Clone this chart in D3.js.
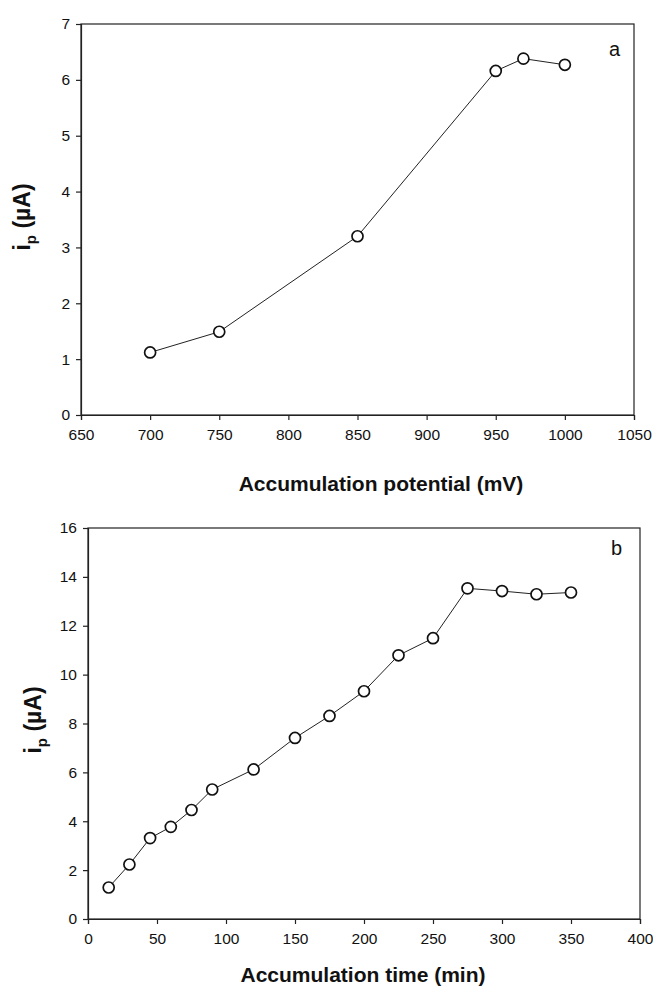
<!DOCTYPE html>
<html>
<head>
<meta charset="utf-8">
<script src="https://cdn.jsdelivr.net/npm/d3@7"></script>
<style>
  body { margin: 0; background: #fff; }
  svg { display: block; }
  text { font-family: "Liberation Sans", Arial, sans-serif; fill: #111; }
</style>
</head>
<body>
<svg id="chart" width="653" height="987"></svg>
<script>
// panel a: accumulation potential
var potential = [700, 750, 850, 950, 970, 1000];
var currentA = [1.12, 1.49, 3.2, 6.16, 6.38, 6.27];
var ticksA_x = [650, 700, 750, 800, 850, 900, 950, 1000, 1050];
var ticksA_y = [0, 1, 2, 3, 4, 5, 6, 7];

// panel b: accumulation time
var time = [15, 30, 45, 60, 75, 90, 120, 150, 175, 200, 225, 250, 275, 300, 325, 350];
var currentB = [1.29, 2.23, 3.31, 3.77, 4.46, 5.3, 6.12, 7.41, 8.31, 9.32, 10.79, 11.49, 13.53, 13.42, 13.29, 13.36];
var ticksB_x = [0, 50, 100, 150, 200, 250, 300, 350, 400];
var ticksB_y = [0, 2, 4, 6, 8, 10, 12, 14, 16];

var svg = d3.select("#chart");

function drawPanel(opt) {
    var x = d3.scaleLinear().domain(opt.xDomain).range([opt.left, opt.right]);
    var y = d3.scaleLinear().domain(opt.yDomain).range([opt.bottom, opt.top]);
    var g = svg.append("g");

    // frame
    g.append("rect")
        .attr("x", opt.left)
        .attr("y", opt.top)
        .attr("width", opt.right - opt.left)
        .attr("height", opt.bottom - opt.top)
        .attr("fill", "none")
        .attr("stroke", "#222")
        .attr("stroke-width", 1.2);

    var xAxis = g.append("g")
        .attr("transform", "translate(0," + opt.bottom + ")")
        .call(d3.axisBottom(x).tickValues(opt.xTicks).tickSize(5).tickPadding(9).tickFormat(d3.format("d")));
    var yAxis = g.append("g")
        .attr("transform", "translate(" + opt.left + ",0)")
        .call(d3.axisLeft(y).tickValues(opt.yTicks).tickSize(5).tickPadding(6).tickFormat(d3.format("d")));

    [xAxis, yAxis].forEach(function (a) {
        a.select(".domain").attr("stroke", "#222").attr("stroke-width", 1.2);
        a.selectAll(".tick line").attr("stroke", "#222").attr("stroke-width", 1.2);
        a.selectAll(".tick text")
            .attr("font-size", 15.5)
            .attr("font-family", "'Liberation Sans', Arial, sans-serif")
            .attr("fill", "#222");
    });

    var line = d3.line()
        .x(function (d) { return x(d[0]); })
        .y(function (d) { return y(d[1]); });
    var pts = d3.zip(opt.xs, opt.ys);

    g.append("path")
        .datum(pts)
        .attr("d", line)
        .attr("fill", "none")
        .attr("stroke", "#222")
        .attr("stroke-width", 1);

    g.selectAll("circle")
        .data(pts)
        .enter()
        .append("circle")
        .attr("cx", function (d) { return x(d[0]); })
        .attr("cy", function (d) { return y(d[1]); })
        .attr("r", 5.5)
        .attr("fill", "#fff")
        .attr("stroke", "#111")
        .attr("stroke-width", 1.7);

    // panel letter
    g.append("text")
        .attr("x", opt.letterX)
        .attr("y", opt.letterY)
        .attr("font-size", 20)
        .text(opt.letter);

    // x title
    g.append("text")
        .attr("x", opt.xTitleX)
        .attr("y", opt.xTitleY)
        .attr("text-anchor", "middle")
        .attr("font-size", 21)
        .attr("font-weight", "bold")
        .text(opt.xTitle);

    // y title: i with subscript p
    var yt = g.append("text")
        .attr("transform", "translate(" + opt.yTitleX + "," + opt.yTitleY + ") rotate(-90)")
        .attr("text-anchor", "middle")
        .attr("font-size", 23)
        .attr("font-weight", "bold");
    yt.append("tspan").text("i");
    yt.append("tspan").attr("font-size", 15).attr("dy", 6).text("p");
    yt.append("tspan").attr("dy", -6).text(" (\u00b5A)");
}

drawPanel({
    left: 81, right: 634, top: 24, bottom: 415,
    xDomain: [650, 1050], yDomain: [0, 7],
    xTicks: ticksA_x, yTicks: ticksA_y,
    xs: potential, ys: currentA,
    letter: "a", letterX: 609, letterY: 56,
    xTitle: "Accumulation potential (mV)", xTitleX: 381, xTitleY: 491,
    yTitleX: 30, yTitleY: 217
});

drawPanel({
    left: 88, right: 640, top: 528, bottom: 919,
    xDomain: [0, 400], yDomain: [0, 16],
    xTicks: ticksB_x, yTicks: ticksB_y,
    xs: time, ys: currentB,
    letter: "b", letterX: 611, letterY: 555,
    xTitle: "Accumulation time (min)", xTitleX: 363, xTitleY: 982,
    yTitleX: 41, yTitleY: 720
});
</script>
</body>
</html>
